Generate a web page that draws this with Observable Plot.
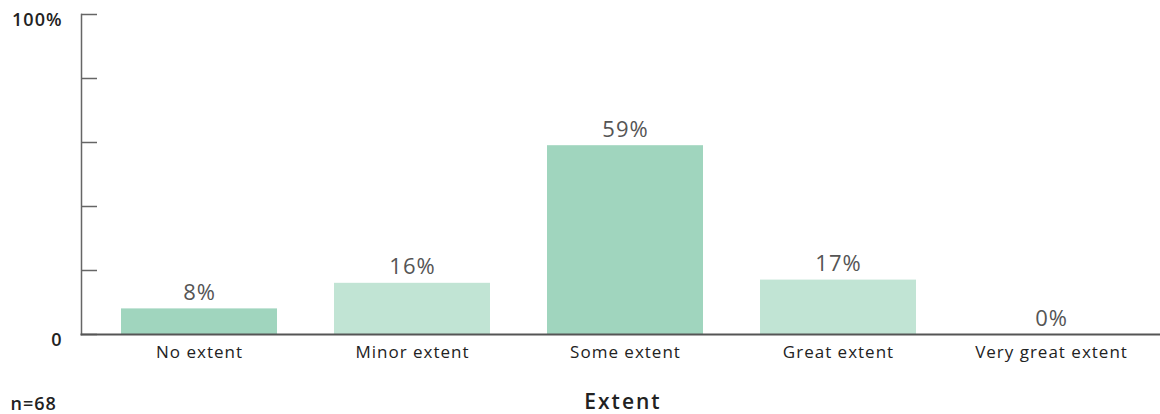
<!DOCTYPE html>
<html>
<head>
<meta charset="utf-8">
<script src="https://cdn.jsdelivr.net/npm/d3@7"></script>
<script src="https://cdn.jsdelivr.net/npm/@observablehq/plot@0.6"></script>
<style>
  html, body { margin: 0; padding: 0; background: #fff; }
  #chart svg { font-family: "Open Sans", "Noto Sans", sans-serif; letter-spacing: 1px; }
  #chart svg g.title-mark text { letter-spacing: 2px; }
</style>
</head>
<body>
<div id="chart"></div>
<script>
const categories = ["No extent", "Minor extent", "Some extent", "Great extent", "Very great extent"];
const values = [8, 16, 59, 17, 0];
const shades = ["dark", "light", "dark", "light", "light"];
const yTicks = [0, 20, 40, 60, 80, 100];
const yLabelTicks = [0, 100];
const sampleNote = "n=68";
const axisTitle = "Extent";

const data = categories.map((c, i) => ({category: c, value: values[i], shade: shades[i]}));

const chart = Plot.plot({
  width: 1160,
  height: 414,
  marginLeft: 81,
  marginRight: 0,
  marginTop: 14,
  marginBottom: 80,
  style: {fontSize: "17px", color: "#222"},
  x: {domain: categories, range: [81, 1168], paddingInner: 0.269, paddingOuter: 0.183},
  y: {domain: [0, 100]},
  color: {domain: ["dark", "light"], range: ["#a0d5be", "#c1e4d4"]},
  marks: [
    Plot.barY(data, {x: "category", y: "value", fill: "shade"}),
    Plot.text(data, {x: "category", y: "value", text: d => `${d.value}%`, dy: -16, fontSize: 22, fill: "#555", lineAnchor: "middle"}),
    Plot.axisY({ticks: yTicks, tickSize: -16, tickFormat: () => "", stroke: "#666", strokeWidth: 1.5, label: null}),
    Plot.axisY({ticks: yLabelTicks, tickSize: 0, tickPadding: 19, dy: 6, fontSize: 18, fontWeight: 600, fill: "#222", tickFormat: d => d === 100 ? "100%" : "0", label: null}),
    Plot.frame({anchor: "left", stroke: "#666", strokeWidth: 1.5}),
    Plot.frame({anchor: "bottom", stroke: "#555", strokeWidth: 2}),
    Plot.axisX({tickSize: 0, tickPadding: 11, fontSize: 17, fill: "#222", label: null}),
    Plot.text([axisTitle], {frameAnchor: "bottom", dy: 68, fontSize: 21, fontWeight: 600, fill: "#222", text: d => d, lineAnchor: "middle", dx: 2, className: "title-mark"}),
    Plot.text([sampleNote], {frameAnchor: "bottom-left", dx: -71, dy: 70, fontSize: 18, fontWeight: 600, fill: "#222", text: d => d, textAnchor: "start", lineAnchor: "middle"})
  ]
});
document.getElementById("chart").appendChild(chart);
</script>
</body>
</html>
